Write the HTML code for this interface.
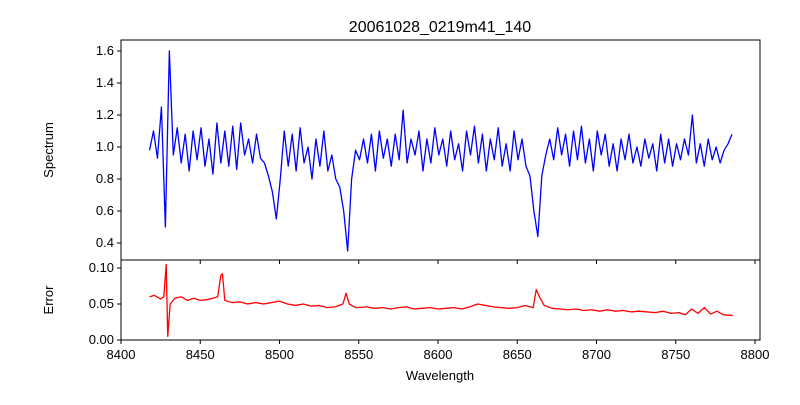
<!DOCTYPE html>
<html><head><meta charset="utf-8">
<style>
body{margin:0;background:#fff;font-family:"Liberation Sans",sans-serif;}
svg text{font-family:"Liberation Sans",sans-serif;fill:#000;}
</style></head>
<body>
<svg id="chart" width="800" height="400" xmlns="http://www.w3.org/2000/svg">
<rect width="800" height="400" fill="#fff"/>
<text x="440" y="32" font-size="16" text-anchor="middle">20061028_0219m41_140</text>
<g id="topPanel"></g>
<g id="botPanel"></g>
<text x="440" y="380" font-size="13" text-anchor="middle">Wavelength</text>
<text transform="translate(53,150) rotate(-90)" font-size="13" text-anchor="middle">Spectrum</text>
<text transform="translate(53,300) rotate(-90)" font-size="13" text-anchor="middle">Error</text>
</svg>
<script>
const specStart = 8418;
const specStep = 2.5;
const specValues = [0.98,1.10,0.93,1.25,0.50,1.60,0.95,1.12,0.90,1.08,0.85,1.10,0.92,1.12,0.88,1.05,0.83,1.15,0.90,1.10,0.88,1.13,0.86,1.15,0.95,1.05,0.90,1.08,0.93,0.90,0.82,0.72,0.55,0.80,1.10,0.88,1.08,0.85,1.12,0.90,1.00,0.80,1.05,0.88,1.10,0.85,0.95,0.80,0.75,0.60,0.35,0.80,0.98,0.92,1.05,0.90,1.08,0.85,1.10,0.93,1.05,0.88,1.08,0.92,1.23,0.90,1.05,0.95,1.10,0.85,1.05,0.90,1.12,0.95,1.05,0.88,1.10,0.92,1.02,0.85,1.10,0.95,1.13,0.90,1.08,0.85,1.05,0.92,1.12,0.88,1.02,0.85,1.10,0.92,1.05,0.88,0.82,0.60,0.44,0.82,0.95,1.05,0.92,1.12,0.95,1.08,0.88,1.10,0.92,1.13,0.90,1.05,0.85,1.10,0.95,1.08,0.88,1.02,0.85,1.05,0.92,1.08,0.90,1.00,0.88,1.05,0.93,1.02,0.85,1.08,0.90,1.05,0.88,1.02,0.92,1.05,0.95,1.20,0.90,1.02,0.88,1.05,0.92,1.00,0.90,0.98,1.02,1.08];
const errWave = [8418,8421,8425,8427,8428.5,8429.5,8431,8434,8438,8442,8446,8450,8454,8458,8461,8463,8464,8465.5,8470,8475,8480,8485,8490,8495,8500,8505,8510,8515,8520,8525,8530,8535,8540,8542,8544,8548,8555,8560,8565,8570,8575,8580,8585,8590,8595,8600,8605,8610,8615,8620,8625,8630,8635,8640,8645,8650,8655,8660,8662,8664,8667,8672,8677,8682,8687,8692,8697,8702,8707,8712,8717,8722,8727,8732,8737,8742,8747,8752,8756,8760,8764,8768,8772,8776,8780,8786];
const errValues = [0.060,0.062,0.057,0.060,0.105,0.005,0.050,0.058,0.060,0.055,0.058,0.055,0.056,0.058,0.060,0.090,0.092,0.055,0.052,0.053,0.050,0.052,0.050,0.052,0.054,0.050,0.048,0.050,0.047,0.048,0.045,0.046,0.050,0.065,0.050,0.045,0.046,0.044,0.045,0.043,0.045,0.046,0.043,0.044,0.045,0.043,0.044,0.045,0.043,0.046,0.050,0.048,0.046,0.045,0.044,0.045,0.048,0.045,0.070,0.060,0.048,0.044,0.043,0.042,0.043,0.041,0.042,0.040,0.042,0.040,0.041,0.039,0.040,0.039,0.038,0.040,0.037,0.038,0.035,0.043,0.037,0.045,0.036,0.040,0.035,0.034];
const xTicks = [8400,8450,8500,8550,8600,8650,8700,8750,8800];
const specTicks = [0.4,0.6,0.8,1.0,1.2,1.4,1.6];
const errTicks = [0.00,0.05,0.10];

const NS="http://www.w3.org/2000/svg";
const L=121,R=760;
const xs=v=>121+(v-8400)*1.585;
const ys=v=>243-(v-0.4)*160;
const ye=v=>340-v*720;
function mk(tag,attrs,parent){const e=document.createElementNS(NS,tag);for(const k in attrs)e.setAttribute(k,attrs[k]);parent.appendChild(e);return e;}
const topG=document.getElementById('topPanel'),botG=document.getElementById('botPanel');

let d='';
specValues.forEach((v,i)=>{d+=(i?'L':'M')+xs(specStart+i*specStep).toFixed(2)+','+ys(v).toFixed(2);});
const sp=mk('path',{d:d,fill:'none',stroke:'#0000ff','stroke-width':1.3,'stroke-linejoin':'round'},topG);


d='';
errValues.forEach((v,i)=>{d+=(i?'L':'M')+xs(errWave[i]).toFixed(2)+','+ye(v).toFixed(2);});
const ep=mk('path',{d:d,fill:'none',stroke:'#ff0000','stroke-width':1.3,'stroke-linejoin':'round'},botG);



const f1=mk('rect',{x:L,y:40,width:R-L,height:220,fill:'none',stroke:'#000','stroke-width':1},topG);


const f2=mk('rect',{x:L,y:260,width:R-L,height:80,fill:'none',stroke:'#000','stroke-width':1},botG);



specTicks.forEach(t=>{const y=ys(t);
 mk('line',{x1:L-4,x2:L,y1:y,y2:y,stroke:'#000'},topG);
 const tx=mk('text',{x:L-7,y:y+4,'font-size':13,'text-anchor':'end'},topG);tx.textContent=t.toFixed(1);
 
 });
errTicks.forEach(t=>{const y=ye(t);
 mk('line',{x1:L-4,x2:L,y1:y,y2:y,stroke:'#000'},botG);
 const tx=mk('text',{x:L-7,y:y+4,'font-size':13,'text-anchor':'end'},botG);tx.textContent=t.toFixed(2);
 
 });
xTicks.forEach(t=>{const x=xs(t);
 mk('line',{x1:x,x2:x,y1:260,y2:264,stroke:'#000'},topG);
 mk('line',{x1:x,x2:x,y1:340,y2:344,stroke:'#000'},botG);
 const tx=mk('text',{x:x,y:359,'font-size':13,'text-anchor':'middle'},botG);tx.textContent=t;
 
 });
</script>
</body></html>
